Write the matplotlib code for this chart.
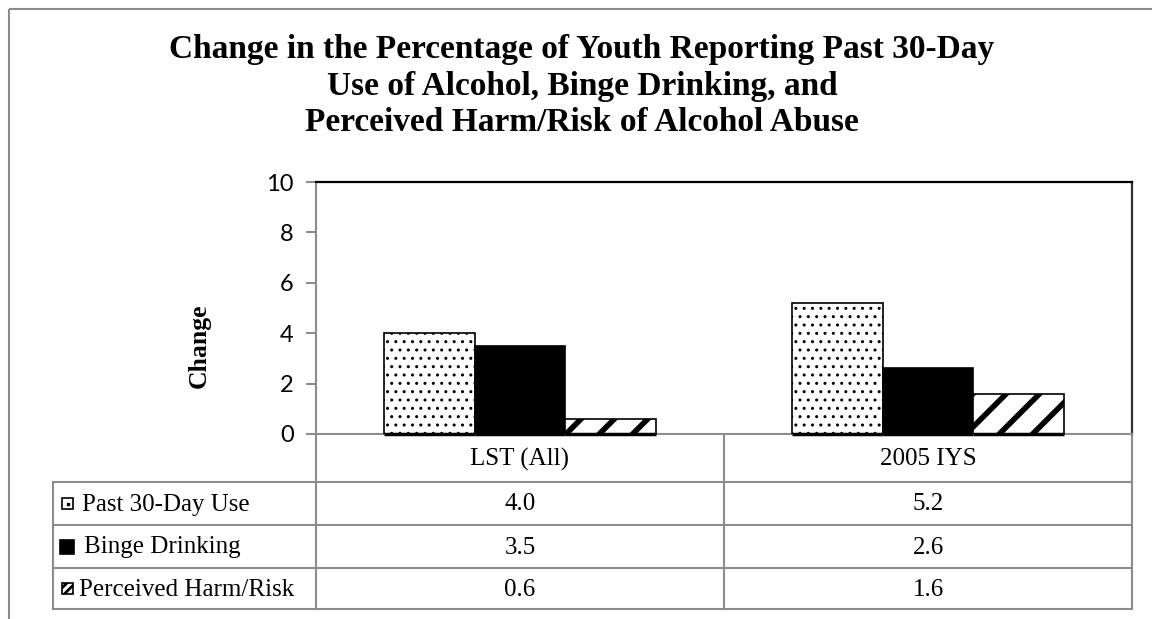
import matplotlib
matplotlib.use("Agg")
import matplotlib.pyplot as plt
from matplotlib.patches import Rectangle

# Данные
categories = ["LST (All)", "2005 IYS"]
series_names = ["Past 30-Day Use", "Binge Drinking", "Perceived Harm/Risk"]
past_30_day = [4.0, 5.2]
binge = [3.5, 2.6]
harm_risk = [0.6, 1.6]
y_ticks = [0, 2, 4, 6, 8, 10]

series_values = [past_30_day, binge, harm_risk]
faces = ["white", "black", "white"]
hatches = ["..", None, "/"]
hatch_lw = [1.0, 1.0, 4.0]

W, H = 1152, 619
plt.rcParams["hatch.color"] = "black"
GRAY = "#8c8c8c"
SERIF = "Liberation Serif"
FS = 18

fig = plt.figure(figsize=(W / 100, H / 100), dpi=100)

# Слой для рамки, заголовка и таблицы в пиксельных координатах
over = fig.add_axes([0, 0, 1, 1])
over.set_xlim(0, W)
over.set_ylim(H, 0)
over.axis("off")

# Область графика
x0, x1, y_top, y_zero = 316, 1132, 182, 434
ax = fig.add_axes([x0 / W, (H - y_zero) / H, (x1 - x0) / W, (y_zero - y_top) / H])
ax.set_xlim(-0.5, 1.5)
ax.set_ylim(0, 10)

w = 0.223
for i, vals in enumerate(series_values):
    xs = [c + (i - 1) * w for c in range(len(categories))]
    with plt.rc_context({"hatch.linewidth": hatch_lw[i]}):
        ax.bar(xs, vals, width=w, color=faces[i], edgecolor="black",
               linewidth=1.2, hatch=hatches[i], zorder=3)
    # тёмная полоска под столбцами
    ax.hlines([0] * len(xs), [x - w / 2 for x in xs], [x + w / 2 for x in xs],
              color="black", lw=2.5, zorder=4, clip_on=False)

ax.set_yticks(y_ticks)
ax.set_yticklabels([str(t) for t in y_ticks], fontsize=17, family="Lato")
ax.set_xticks([])
ax.tick_params(axis="y", direction="out", length=7, width=1.5, color=GRAY, pad=9)
ax.spines["left"].set_color(GRAY)
ax.spines["bottom"].set_color(GRAY)
ax.spines["left"].set_linewidth(1.5)
ax.spines["bottom"].set_linewidth(1.5)
ax.spines["top"].set_color("black")
ax.spines["right"].set_color("#333333")
ax.spines["top"].set_linewidth(1.6)
ax.spines["right"].set_linewidth(1.6)

# Внешняя рамка
over.add_patch(Rectangle((9, 9), W + 20, H + 20, fill=False, edgecolor=GRAY, lw=1.5))

# Заголовок
over.text(582, 86, "Change in the Percentage of Youth Reporting Past 30-Day\n"
          "Use of Alcohol, Binge Drinking, and\n"
          "Perceived Harm/Risk of Alcohol Abuse",
          ha="center", va="center", fontsize=24, fontweight="bold",
          family=SERIF, linespacing=1.22)

over.text(199, 346, "Change", rotation=90, ha="center", va="center",
          fontsize=18.5, fontweight="bold", family=SERIF)

# Таблица данных
t_left = 53
row_y = [434, 482, 525, 568, 609]
col_mid = (x0 + x1) / 2
lw = 1.5
over.plot([x0, x0], [row_y[0], row_y[-1]], color=GRAY, lw=lw)
over.plot([col_mid, col_mid], [row_y[0], row_y[-1]], color=GRAY, lw=lw)
over.plot([x1, x1], [row_y[0], row_y[-1]], color=GRAY, lw=lw)
over.plot([t_left, t_left], [row_y[1], row_y[-1]], color=GRAY, lw=lw)
for y in row_y[1:]:
    over.plot([t_left, x1], [y, y], color=GRAY, lw=lw)

col_centers = [(x0 + col_mid) / 2, (col_mid + x1) / 2]
for c, name in zip(col_centers, categories):
    over.text(c, (row_y[0] + row_y[1]) / 2 + 1, name, ha="center", va="center",
              fontsize=FS, family=SERIF)

key_x = [62, 60, 62]
key_size = [11, 14, 11]
key_hatch = [None, None, "////"]
text_x = [82, 84, 79]
for r, (name, vals) in enumerate(zip(series_names, series_values)):
    yc = (row_y[r + 1] + row_y[r + 2]) / 2
    s = key_size[r]
    with plt.rc_context({"hatch.linewidth": 2.0}):
        over.add_patch(Rectangle((key_x[r], yc - s / 2), s, s, facecolor=faces[r],
                                 edgecolor="black", lw=1.2, hatch=key_hatch[r]))
    if r == 0:
        over.plot([key_x[r] + s / 2], [yc], "s", ms=2, color="black")
    over.text(text_x[r], yc + 1, name, ha="left", va="center", fontsize=FS, family=SERIF)
    for c, v in zip(col_centers, vals):
        over.text(c, yc + 1, f"{v:.1f}", ha="center", va="center", fontsize=FS, family=SERIF)

fig.savefig("out.png", dpi=100)
